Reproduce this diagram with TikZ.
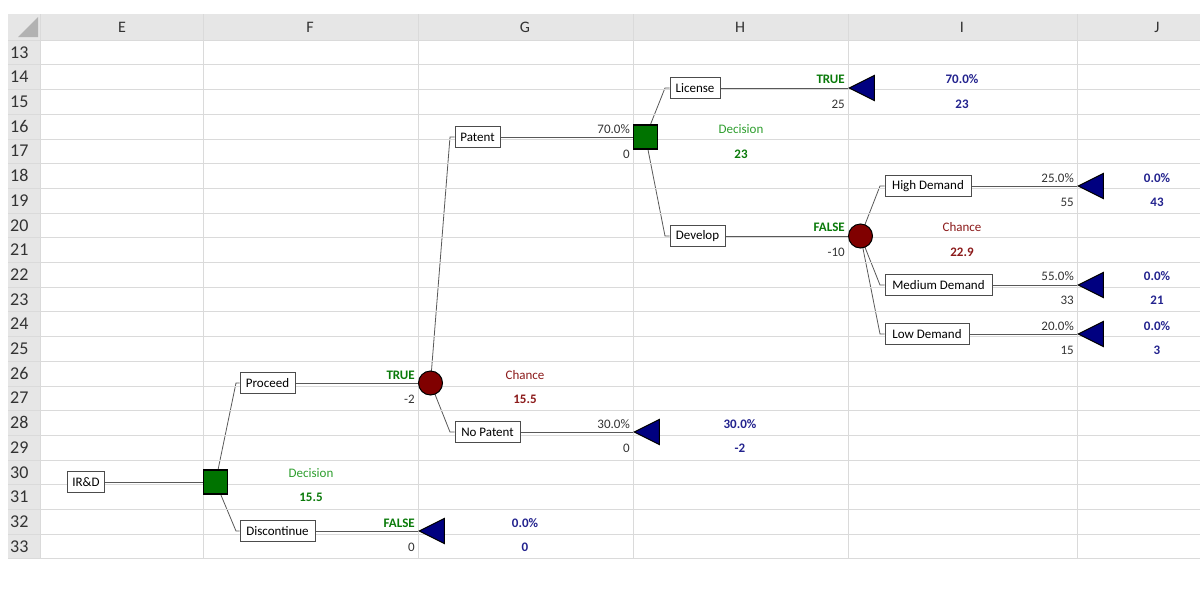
\documentclass[tikz,border=0pt]{standalone}
\usepackage{fontspec}
\setmainfont{Carlito}
\usetikzlibrary{shapes.geometric}
\pgfdeclarelayer{bg}
\pgfsetlayers{bg,main}
\definecolor{dgreen}{HTML}{0A7A0A}
\definecolor{lgreen}{HTML}{2E9E2E}
\definecolor{dred}{HTML}{800000}
\definecolor{tred}{HTML}{8B1A1A}
\definecolor{navy}{HTML}{000080}
\definecolor{tblue}{HTML}{23238E}
\definecolor{grid}{HTML}{DADADA}
\definecolor{hdr}{HTML}{E6E6E6}
\begin{document}
\begin{tikzpicture}[x=1pt,y=-1pt,
  font=\fontsize{13}{15}\selectfont,
  box/.style={draw=black!70,fill=white,inner sep=0pt,minimum height=21pt,minimum width=#1,line width=0.7pt},
  dec/.style={draw=black,fill=green!45!black,minimum size=24pt,inner sep=0pt,line width=1.2pt},
  chc/.style={circle,draw=black,fill=dred,minimum size=24pt,inner sep=0pt,line width=1pt},
  term/.style={isosceles triangle,shape border rotate=180,isosceles triangle stretches,draw=black,fill=navy,minimum width=25pt,minimum height=25pt,inner sep=0pt,anchor=apex,line width=1pt},
  edge/.style={draw=black!65,line width=0.8pt},
  lb/.style={inner sep=0pt,anchor=base},
  lbr/.style={inner sep=0pt,anchor=base east},
  gt/.style={lb,text=lgreen},
  gb/.style={lb,text=dgreen,font=\fontsize{13}{15}\selectfont\bfseries},
  gbr/.style={lbr,text=dgreen,font=\fontsize{13}{15}\selectfont\bfseries},
  rt/.style={lb,text=tred},
  rb/.style={lb,text=tred,font=\fontsize{13}{15}\selectfont\bfseries},
  bb/.style={lb,text=tblue,font=\fontsize{13}{15}\selectfont\bfseries},
  nr/.style={lbr,text=black!80},
  hd/.style={inner sep=0pt,font=\fontsize{16}{18}\selectfont,text=black!80},
  rn/.style={inner sep=0pt,font=\fontsize{18}{20}\selectfont,text=black!80,anchor=west}
]
\useasboundingbox (0,0) rectangle (1200,600);
% sheet background
\fill[hdr] (8,14) rectangle (1200,40);
\fill[hdr] (8,40) rectangle (40,559);
\fill[black!30] (38,17) -- (38,37) -- (18,37) -- cycle;
\foreach \i in {0,...,21} \draw[grid,line width=0.6pt] (8,40+\i*24.7) -- (1200,40+\i*24.7);
\foreach \x in {40,203,418,633,848,1077} \draw[grid,line width=0.6pt] (\x,14) -- (\x,559);
\foreach \l/\x in {E/122,F/310,G/525,H/740,I/962,J/1157} \node[hd] (h\l) at (\x,27) {\l};
\foreach \r [count=\k from 0] in {13,...,33} \node[rn] (r\r) at (10,52.35+\k*24.7) {\r};
% nodes
\node[box=37pt] (ird) at (86,482) {IR\&D};
\node[dec] (d1) at (215.5,482) {};
\node[box=55pt] (proc) at (267.5,383) {Proceed};
\node[box=75pt] (disc) at (277.5,531) {Discontinue};
\node[term] (t1) at (418,531) {};
\node[chc] (c1) at (430.5,383) {};
\node[box=45pt] (pat) at (477.5,137) {Patent};
\node[box=65pt] (npat) at (487.5,432) {No Patent};
\node[dec] (d2) at (645.5,137) {};
\node[term] (t2) at (633,432) {};
\node[box=50pt] (lic) at (695,88) {License};
\node[box=55pt] (dev) at (697.5,236) {Develop};
\node[term] (t3) at (848,88) {};
\node[chc] (c2) at (860.5,236) {};
\node[box=86pt] (hi) at (928,186) {High Demand};
\node[box=107pt] (med) at (938.5,285) {Medium Demand};
\node[box=84pt] (lo) at (927,334) {Low Demand};
\node[term] (t4) at (1077,186) {};
\node[term] (t5) at (1077,285) {};
\node[term] (t6) at (1077,334) {};
% connectors
\coordinate (k1) at (236,383); \coordinate (k2) at (236,531);
\coordinate (k3) at (450,137); \coordinate (k4) at (450,432);
\coordinate (k5) at (665,88); \coordinate (k6) at (665,236);
\coordinate (k7) at (880,186); \coordinate (k8) at (880,285); \coordinate (k9) at (880,334);
\begin{pgfonlayer}{bg}
\draw[edge] (ird.east) -- (d1.center);
\draw[edge] (d1.center) -- (k1) -- (proc.west);
\draw[edge] (d1.center) -- (k2) -- (disc.west);
\draw[edge] (proc.east) -- (c1.center);
\draw[edge] (disc.east) -- (t1.apex);
\draw[edge] (c1.center) -- (k3) -- (pat.west);
\draw[edge] (c1.center) -- (k4) -- (npat.west);
\draw[edge] (pat.east) -- (d2.center);
\draw[edge] (npat.east) -- (t2.apex);
\draw[edge] (d2.center) -- (k5) -- (lic.west);
\draw[edge] (d2.center) -- (k6) -- (dev.west);
\draw[edge] (lic.east) -- (t3.apex);
\draw[edge] (dev.east) -- (c2.center);
\draw[edge] (c2.center) -- (k7) -- (hi.west);
\draw[edge] (c2.center) -- (k8) -- (med.west);
\draw[edge] (c2.center) -- (k9) -- (lo.west);
\draw[edge] (hi.east) -- (t4.apex);
\draw[edge] (med.east) -- (t5.apex);
\draw[edge] (lo.east) -- (t6.apex);
\end{pgfonlayer}
% labels
\node[gt] (l1) at (311,477) {Decision};
\node[gb] (l2) at (311,501) {15.5};
\node[gbr] (l3) at (415,379) {TRUE};
\node[nr] (l4) at (415,403) {-2};
\node[gbr] (l5) at (415,527) {FALSE};
\node[nr] (l6) at (415,551) {0};
\node[bb] (l7) at (525,527) {0.0\%};
\node[bb] (l8) at (525,551) {0};
\node[rt] (l9) at (525,379) {Chance};
\node[rb] (l10) at (525,403) {15.5};
\node[nr] (l11) at (630,133) {70.0\%};
\node[nr] (l12) at (630,158) {0};
\node[nr] (l13) at (630,428) {30.0\%};
\node[nr] (l14) at (630,452) {0};
\node[bb] (l15) at (740,428) {30.0\%};
\node[bb] (l16) at (740,452) {-2};
\node[gt] (l17) at (741,133) {Decision};
\node[gb] (l18) at (741,158) {23};
\node[gbr] (l19) at (845,83) {TRUE};
\node[nr] (l20) at (845,108) {25};
\node[bb] (l21) at (962,83) {70.0\%};
\node[bb] (l22) at (962,108) {23};
\node[gbr] (l23) at (845,231) {FALSE};
\node[nr] (l24) at (845,256) {-10};
\node[rt] (l25) at (962,231) {Chance};
\node[rb] (l26) at (962,256) {22.9};
\node[nr] (l27) at (1074,182) {25.0\%};
\node[nr] (l28) at (1074,206) {55};
\node[nr] (l29) at (1074,280) {55.0\%};
\node[nr] (l30) at (1074,304) {33};
\node[nr] (l31) at (1074,330) {20.0\%};
\node[nr] (l32) at (1074,354) {15};
\node[bb] (l33) at (1157,182) {0.0\%};
\node[bb] (l34) at (1157,206) {43};
\node[bb] (l35) at (1157,280) {0.0\%};
\node[bb] (l36) at (1157,304) {21};
\node[bb] (l37) at (1157,330) {0.0\%};
\node[bb] (l38) at (1157,354) {3};
\end{tikzpicture}
\end{document}
